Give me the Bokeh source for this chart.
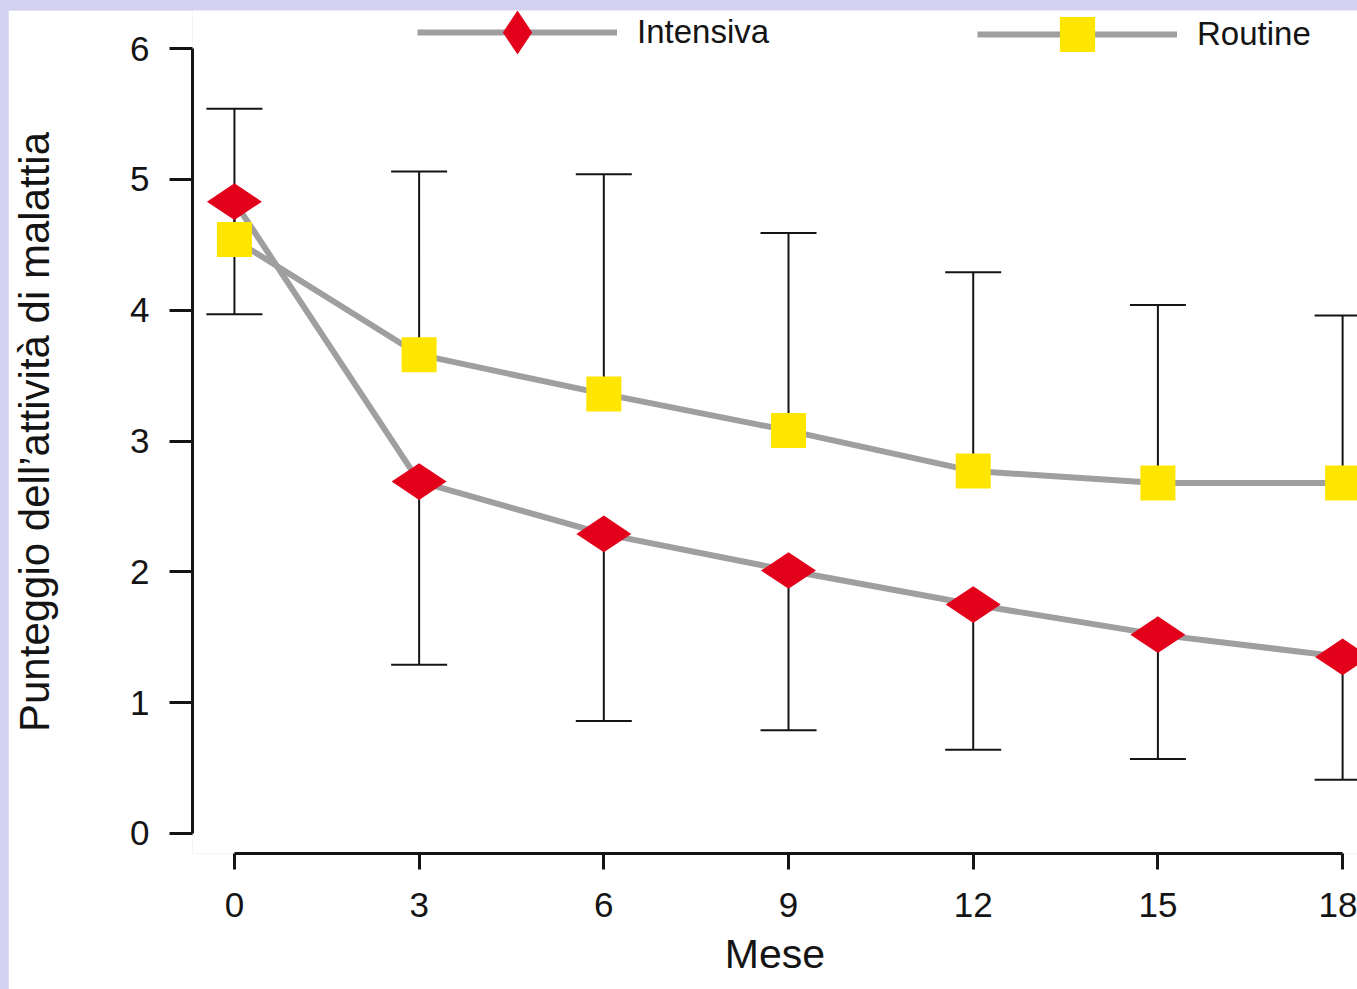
from bokeh.plotting import figure
from bokeh.models import (Range1d, FixedTicker, Legend, LegendItem,
                          Whisker, TeeHead, ColumnDataSource)
from bokeh.embed import file_html
from bokeh.resources import INLINE

# ---- data ----
months = [0, 3, 6, 9, 12, 15, 18]
intensiva = [4.83, 2.69, 2.29, 2.01, 1.75, 1.52, 1.35]
routine = [4.54, 3.66, 3.36, 3.08, 2.77, 2.68, 2.68]
routine_upper = [5.54, 5.06, 5.04, 4.59, 4.29, 4.04, 3.96]
intensiva_lower = [3.97, 1.29, 0.86, 0.79, 0.64, 0.57, 0.41]
x_ticks = [0, 3, 6, 9, 12, 15, 18]
y_ticks = [0, 1, 2, 3, 4, 5, 6]
series_names = ["Intensiva", "Routine"]
x_title = "Mese"
y_title = "Punteggio dell\u2019attivit\u00e0 di malattia"

RED = "#e2001a"
YELLOW = "#ffe600"
GRAY = "#9f9f9f"
INK = "#141414"
LAVENDER = "#d3d3f1"
FONT = "Liberation Sans"

p = figure(width=1349, height=979, output_backend="svg", toolbar_location=None,
           x_range=Range1d(-0.681, 18.242), y_range=Range1d(-0.153, 6.291),
           min_border_left=182, min_border_right=0, min_border_top=0,
           min_border_bottom=136)
p.outline_line_color = None
p.background_fill_color = "white"
p.border_fill_color = "white"
p.grid.visible = False

# axes
for ax in (p.xaxis[0], p.yaxis[0]):
    ax.axis_line_width = 3
    ax.axis_line_color = INK
    ax.major_tick_line_width = 3
    ax.major_tick_line_color = INK
    ax.minor_tick_line_color = None
    ax.major_tick_in = 0
    ax.major_label_text_font = FONT
    ax.major_label_text_font_size = "35px"
    ax.major_label_text_color = INK
    ax.axis_label_text_font = FONT
    ax.axis_label_text_font_style = "normal"
    ax.axis_label_text_color = INK

p.xaxis.ticker = FixedTicker(ticks=x_ticks)
p.xaxis.bounds = (x_ticks[0], x_ticks[-1])
p.xaxis.major_tick_out = 16
p.xaxis.major_label_standoff = 23
p.xaxis.axis_label = x_title
p.xaxis.axis_label_text_font_size = "41px"
p.xaxis.axis_label_standoff = 11

p.yaxis.ticker = FixedTicker(ticks=y_ticks)
p.yaxis.bounds = (y_ticks[0], y_ticks[-1])
p.yaxis.major_tick_out = 23
p.yaxis.major_label_standoff = 20
p.yaxis.axis_label = y_title
p.yaxis.axis_label_text_font_size = "42px"
p.yaxis.axis_label_standoff = 69

# error bars
src_up = ColumnDataSource(dict(base=months, lower=routine, upper=routine_upper))
src_lo = ColumnDataSource(dict(base=months, lower=intensiva_lower, upper=intensiva))
w_up = Whisker(source=src_up, base="base", lower="lower", upper="upper",
               dimension="height", line_width=2, line_color=INK, level="underlay",
               upper_head=TeeHead(size=56, line_width=2, line_color=INK),
               lower_head=None)
w_lo = Whisker(source=src_lo, base="base", lower="lower", upper="upper",
               dimension="height", line_width=2, line_color=INK, level="underlay",
               lower_head=TeeHead(size=56, line_width=2, line_color=INK),
               upper_head=None)
p.add_layout(w_up)
p.add_layout(w_lo)

# lines and markers
l_i = p.line(months, intensiva, line_color=GRAY, line_width=6)
l_r = p.line(months, routine, line_color=GRAY, line_width=6)
m_i = p.scatter(months, intensiva, marker="diamond", size=55, angle=1.5708,
                fill_color=RED, line_color=None)
m_r = p.scatter(months, routine, marker="square", size=35,
                fill_color=YELLOW, line_color=None)

common = dict(orientation="horizontal", glyph_width=200, label_standoff=20,
              padding=0, margin=0, label_text_font=FONT,
              label_text_font_size="33px", label_text_color=INK,
              label_text_baseline="middle", background_fill_alpha=0,
              border_line_alpha=0)
leg_i = Legend(items=[LegendItem(label=series_names[0], renderers=[l_i, m_i])],
               location=(225, 766), glyph_height=110, **common)
leg_r = Legend(items=[LegendItem(label=series_names[1], renderers=[l_r, m_r])],
               location=(785, 775), glyph_height=88, **common)
p.add_layout(leg_i, "center")
p.add_layout(leg_r, "center")

html = file_html(p, INLINE, title="Punteggio")
html = html.replace("</head>",
                    "<style>body{padding:10px 0 0 8px;background-color:%s;}</style></head>" % LAVENDER)
open("out.html", "w").write(html)
